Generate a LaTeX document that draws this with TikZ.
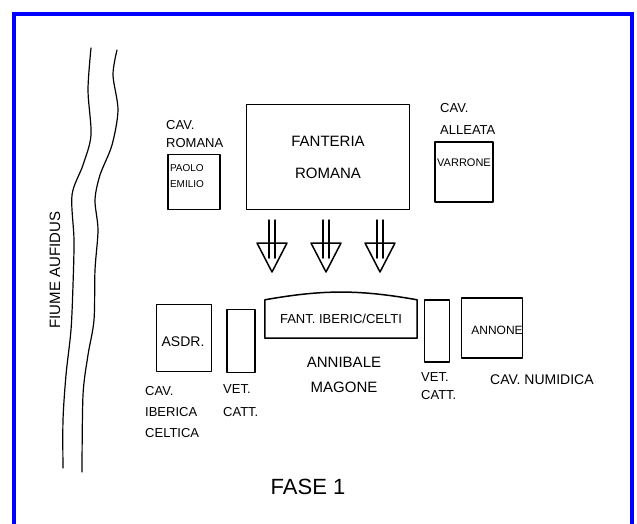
\documentclass[tikz,border=0pt]{standalone}
\usepackage{fontspec}
\setmainfont{Liberation Sans}
\usetikzlibrary{positioning}
\tikzset{>=stealth}
\tikzset{
  schizzo/.style={line width=1.5pt, line cap=round, line join=round},
  reparto/.style={draw, schizzo, inner sep=0pt},
  scritta/.style={inner sep=0pt, font=\fontsize{13}{#1}\selectfont, align=left},
  scritta/.default=18,
  pics/spinta/.style={code={
    \draw[schizzo] (-3,0) -- (-3,38) (3,0) -- (3,38);
    \draw[schizzo] (-15,23) -- (15,23) -- (0,52) -- cycle;
  }}
}

\begin{document}
\begin{tikzpicture}[x=1pt,y=-1pt]
    \useasboundingbox (0,0) rectangle (637,523);
    \draw[blue, line width=3.5pt] (14,530) -- (14,14) -- (632,14) -- (632,530);

    % fiume
    \draw[schizzo, line width=1.2pt] plot[smooth] coordinates {(91,48) (88,90) (91,135) (83,165) (72,195) (74,240) (73,285) (71,330) (66,375) (63,420) (63,468)};
    \draw[schizzo, line width=1.2pt] plot[smooth] coordinates {(117,50) (113,75) (118,110) (112,145) (100,175) (95,200) (98,230) (95,270) (94,320) (88,355) (83,395) (82,472)};
    \node[scritta, font=\fontsize{15}{18}\selectfont, rotate=90] (fiume) at (55,270) {FIUME AUFIDUS};

    % romani
    \node[reparto, minimum width=163, minimum height=105, align=center,
          font=\fontsize{15}{32}\selectfont] (fr) at (328,157) {FANTERIA\\ROMANA};
    \node[reparto, minimum width=52, minimum height=55] (pe) at (194,182) {};
    \node[scritta=16, font=\fontsize{10}{16}\selectfont] (petxt) at (187,176) {PAOLO\\EMILIO};
    \node[scritta, anchor=west] (cavr) at (166,134) {CAV.\\ROMANA};
    \node[reparto, minimum width=58, minimum height=60] (va) at (464,172) {};
    \node[scritta, font=\fontsize{11}{13}\selectfont] (vatxt) at (464,163) {VARRONE};
    \node[scritta=22, anchor=west] (cava) at (440,119) {CAV.\\ALLEATA};

    \foreach \x/\n in {272/a, 326/b, 380/c}
      \pic (\n) at (\x,220) {spinta};

    % cartaginesi
    \node[minimum width=152, minimum height=38, inner sep=0pt,
          font=\fontsize{13}{15}\selectfont] (fi) at (341,319) {FANT. IBERIC/CELTI};
    \draw[schizzo] (fi.south west) -- (fi.north west) to[bend left=10] (fi.north east)
      -- (fi.south east) -- cycle;
    \node[scritta=25, align=center, font=\fontsize{15}{25}\selectfont] (am) at (344,375) {ANNIBALE\\MAGONE};

    \node[reparto, minimum width=55, minimum height=67] (as) at (184,338) {};
    \node[scritta, font=\fontsize{14}{16}\selectfont] (astxt) at (183,342) {ASDR.};
    \node[scritta=21, anchor=west] (cavi) at (145,412) {CAV.\\IBERICA\\CELTICA};

    \node[reparto, minimum width=28, minimum height=63] (vc1) at (241,341) {};
    \node[scritta=23, anchor=west] (vc1txt) at (223,401) {VET.\\CATT.};
    \node[reparto, minimum width=25, minimum height=62] (vc2) at (437,331) {};
    \node[scritta=18, anchor=west] (vc2txt) at (421,386) {VET.\\CATT.};

    \node[reparto, minimum width=61, minimum height=60] (an) at (492,328) {};
    \node[scritta, font=\fontsize{12}{14}\selectfont] (antxt) at (497,330) {ANNONE};
    \node[scritta, anchor=west, font=\fontsize{14}{16}\selectfont] (cavn) at (490,380) {CAV. NUMIDICA};

    \node[scritta, font=\fontsize{22}{26}\selectfont] (fase) at (308,487) {FASE 1};
\end{tikzpicture}
\end{document}
